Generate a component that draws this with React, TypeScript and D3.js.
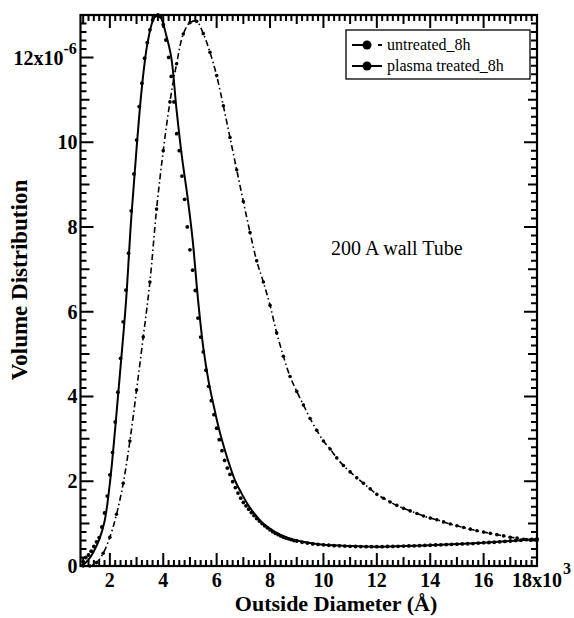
import * as d3 from "d3";
import * as React from "react";

// outside diameter in units of 10^3 Å, volume distribution in units of 10^-6
const untreatedX = [
  1.0, 1.25, 1.5, 1.75, 2.0, 2.25, 2.5, 2.75, 3.0, 3.25, 3.5, 3.75, 4.0, 4.25, 4.5, 4.75, 5.0, 5.25,
  5.5, 5.75, 6.0, 6.25, 6.5, 6.75, 7.0, 7.25, 7.5, 7.75, 8.0, 8.25, 8.5, 8.75, 9.0, 9.25, 9.5, 9.75,
  10.0, 10.25, 10.5, 10.75, 11.0, 11.25, 11.5, 11.75, 12.0, 12.25, 12.5, 12.75, 13.0, 13.25, 13.5,
  13.75, 14.0, 14.25, 14.5, 14.75, 15.0, 15.25, 15.5, 15.75, 16.0, 16.25, 16.5, 16.75, 17.0, 17.25,
  17.5, 17.75, 18.0,
];
const untreatedY = [
  0.0, 0.0, 0.08, 0.3, 0.68, 1.22, 1.95, 2.95, 4.15, 5.4, 6.7, 8.42, 9.8, 10.95, 11.85, 12.55, 12.82,
  12.85, 12.56, 12.12, 11.57, 10.86, 10.11, 9.35, 8.6, 7.87, 7.2, 6.7, 6.15, 5.5, 4.95, 4.47, 4.12,
  3.8, 3.48, 3.2, 2.95, 2.76, 2.55, 2.37, 2.22, 2.08, 1.95, 1.82, 1.69, 1.6, 1.51, 1.43, 1.36, 1.3,
  1.24, 1.18, 1.13, 1.09, 1.04, 0.99, 0.95, 0.91, 0.87, 0.83, 0.8, 0.77, 0.74, 0.71, 0.68, 0.66,
  0.63, 0.61, 0.6,
];

// plasma treated: measured points (dots)
const plasmaX = [
  1.0, 1.1, 1.2, 1.3, 1.4, 1.5, 1.6, 1.7, 1.8, 1.9, 2.0, 2.1, 2.2, 2.3, 2.4, 2.5, 2.6, 2.7, 2.8, 2.9,
  3.0, 3.1, 3.2, 3.3, 3.4, 3.5, 3.6, 3.7, 3.8, 3.9, 4.0, 4.1, 4.2, 4.3, 4.4, 4.5, 4.6, 4.7, 4.8, 4.9,
  5.0, 5.1, 5.2, 5.3, 5.4, 5.5, 5.6, 5.7, 5.8, 5.9, 6.0, 6.1, 6.2, 6.3, 6.4, 6.5, 6.6, 6.7, 6.8, 6.9,
  7.0, 7.1, 7.2, 7.3, 7.4, 7.5, 7.6, 7.7, 7.8, 7.9, 8.0, 8.1, 8.2, 8.3, 8.4, 8.5, 8.6, 8.7, 8.8, 8.9,
  9.0, 9.2, 9.4, 9.6, 9.8, 10.0, 10.2, 10.4, 10.6, 10.8, 11.0, 11.2, 11.4, 11.6, 11.8, 12.0, 12.2,
  12.4, 12.6, 12.8, 13.0, 13.2, 13.4, 13.6, 13.8, 14.0, 14.2, 14.4, 14.6, 14.8, 15.0, 15.2, 15.4,
  15.6, 15.8, 16.0, 16.2, 16.4, 16.6, 16.8, 17.0, 17.2, 17.4, 17.6, 17.8, 18.0,
];
const plasmaY = [
  0.1, 0.2, 0.26, 0.35, 0.46, 0.57, 0.67, 0.92, 1.25, 1.65, 2.15, 2.68, 3.4, 4.1, 4.9, 5.76, 6.51,
  7.38, 8.38, 9.25, 10.05, 10.84, 11.39, 11.98, 12.35, 12.65, 12.88, 12.98, 13.0, 12.96, 12.77,
  12.41, 12.0, 11.55, 10.95, 10.2, 9.8, 9.2, 8.65, 8.0, 7.46, 6.98, 6.5, 5.85, 5.4, 5.05, 4.62, 4.24,
  3.9, 3.57, 3.25, 2.98, 2.72, 2.49, 2.31, 2.16, 1.99, 1.85, 1.72, 1.6, 1.5, 1.42, 1.34, 1.26, 1.19,
  1.12, 1.06, 1.0, 0.95, 0.9, 0.85, 0.81, 0.77, 0.74, 0.71, 0.68, 0.66, 0.64, 0.62, 0.6, 0.59, 0.56,
  0.54, 0.52, 0.51, 0.5, 0.49, 0.48, 0.475, 0.47, 0.465, 0.46, 0.458, 0.455, 0.455, 0.455, 0.457,
  0.46, 0.462, 0.465, 0.47, 0.473, 0.477, 0.48, 0.485, 0.49, 0.495, 0.5, 0.505, 0.51, 0.515, 0.52,
  0.525, 0.53, 0.54, 0.55, 0.555, 0.56, 0.57, 0.58, 0.59, 0.6, 0.61, 0.62, 0.63, 0.64,
];

// plasma treated: fitted curve (solid line)
const plasmaFitX = [
  0.9, 1.0, 1.2, 1.4, 1.6, 1.8, 2.0, 2.2, 2.4, 2.6, 2.8, 3.0, 3.2, 3.4, 3.6, 3.75, 3.9, 4.1, 4.3,
  4.5, 4.7, 4.9, 5.1, 5.3, 5.5, 5.7, 5.9, 6.1, 6.3, 6.5, 6.7, 6.9, 7.2, 7.5, 7.8, 8.2, 8.6, 9.0, 9.5,
  10.0, 11.0, 12.0, 13.0, 14.0, 15.0, 16.0, 17.0, 18.0,
];
const plasmaFitY = [
  0.0, 0.03, 0.15, 0.35, 0.62, 1.05, 1.95, 3.25, 4.7, 6.2, 8.2, 9.85, 11.3, 12.3, 12.85, 13.0,
  12.95, 12.55, 12.0, 10.75, 9.65, 8.75, 7.7, 6.3, 5.15, 4.35, 3.75, 3.2, 2.75, 2.35, 2.0, 1.75,
  1.42, 1.17, 0.97, 0.8, 0.68, 0.6, 0.54, 0.5, 0.47, 0.455, 0.47, 0.49, 0.52, 0.55, 0.59, 0.64,
];

const yTickLabels = ["0", "2", "4", "6", "8", "10", "12x10"];
const xTickLabels = ["2", "4", "6", "8", "10", "12", "14", "16", "18x10"];
const seriesNames = ["untreated_8h", "plasma treated_8h"];

const FONT = "Liberation Serif, Times New Roman, serif";

const W = 574, H = 618;
const margin = { top: 15, right: 37, bottom: 52, left: 80.5 };

export default function App() {
  const x = d3.scaleLinear().domain([0.9, 18]).range([margin.left, W - margin.right]);
  const y = d3.scaleLinear().domain([0, 13]).range([H - margin.bottom, margin.top]);
  const [x0, x1] = x.range();
  const [y0, y1] = y.range();

  const line = d3
    .line<[number, number]>()
    .x((d) => x(d[0]))
    .y((d) => y(d[1]))
    .curve(d3.curveCatmullRom);

  const untreated = untreatedX.map((v, i) => [v, untreatedY[i]] as [number, number]);
  const plasma = plasmaX.map((v, i) => [v, plasmaY[i]] as [number, number]);
  const plasmaFit = plasmaFitX.map((v, i) => [v, plasmaFitY[i]] as [number, number]);

  // tick length: long at even, medium at odd, short every 0.2
  const tickLen = (v: number) => {
    const r = Math.round(v * 5);
    if (r % 10 === 0) return 13;
    if (r % 5 === 0) return 9;
    return 6;
  };
  const xt = d3.range(1.0, 18.001, 0.2);
  const yt = d3.range(0, 13.001, 0.2);

  let ticksD = "";
  xt.forEach((v) => {
    const px = x(v);
    ticksD += `M${px},${y0}V${y0 - tickLen(v)}M${px},${y1}V${y1 + tickLen(v)}`;
  });
  yt.forEach((v) => {
    const py = y(v);
    ticksD += `M${x0},${py}H${x0 + tickLen(v)}M${x1},${py}H${x1 - tickLen(v)}`;
  });

  return (
    <svg
      width={W}
      height={H}
      style={{ position: "absolute", left: 0, top: 0, background: "#fff" }}
    >
      <path
        d={line(untreated) || ""}
        fill="none"
        stroke="#000"
        strokeWidth={1.6}
        strokeDasharray="6 3 1.5 3"
      />
      {untreated.map((d, i) => (
        <circle key={"u" + i} cx={x(d[0])} cy={y(d[1])} r={1.8} fill="#000" />
      ))}
      <path d={line(plasmaFit) || ""} fill="none" stroke="#000" strokeWidth={2} />
      {plasma.map((d, i) => (
        <circle key={"p" + i} cx={x(d[0])} cy={y(d[1])} r={1.9} fill="#000" />
      ))}

      {/* frame and inward ticks */}
      <rect x={x0} y={y1} width={x1 - x0} height={y0 - y1} fill="none" stroke="#000" strokeWidth={2.2} />
      <path d={ticksD} fill="none" stroke="#000" strokeWidth={2} />

      <g fontFamily={FONT} fontWeight="bold" fontSize={20} fill="#000">
        {xTickLabels.map((t, i) => (
          <text key={"xl" + i} x={x((i + 1) * 2)} y={y0 + 21} textAnchor="middle">
            {t}
          </text>
        ))}
        <text x={x(18) + 26} y={y0 + 8} fontSize={16}>
          3
        </text>
        {yTickLabels.map((t, i) =>
          i === yTickLabels.length - 1 ? (
            <text key={"yl" + i} x={x0 - 17} y={y(i * 2) + 8} textAnchor="end">
              {t}
            </text>
          ) : (
            <text key={"yl" + i} x={x0 - 3} y={y(i * 2) + 7} textAnchor="end">
              {t}
            </text>
          )
        )}
        <text x={x0 - 17} y={y(12) - 3} fontSize={16}>
          -6
        </text>
        <text x={336} y={611} textAnchor="middle" fontSize={22}>
          Outside Diameter (Å)
        </text>
        <text transform="translate(27,280) rotate(-90)" textAnchor="middle" fontSize={23}>
          Volume Distribution
        </text>
      </g>

      <text x={331} y={255} fontFamily={FONT} fontSize={20}>
        200 A wall Tube
      </text>

      {/* legend */}
      <g fontFamily={FONT} fontSize={16}>
        <rect x={346} y={30} width={184} height={49} fill="#fff" stroke="#000" strokeWidth={1.3} />
        {seriesNames.map((name, i) => {
          const ly = 45 + i * 21;
          return (
            <g key={name}>
              <line
                x1={352}
                x2={382}
                y1={ly}
                y2={ly}
                stroke="#000"
                strokeWidth={2}
                strokeDasharray={i === 0 ? "14 12 4" : undefined}
              />
              <circle cx={367} cy={ly} r={4.5} fill="#000" />
              <text x={387} y={ly + 5}>
                {name}
              </text>
            </g>
          );
        })}
      </g>
    </svg>
  );
}
